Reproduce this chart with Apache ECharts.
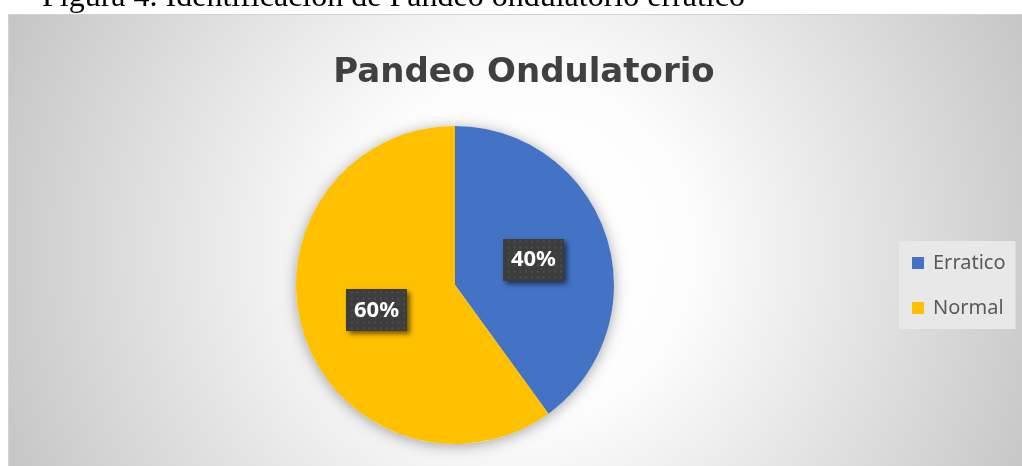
<!DOCTYPE html>
<html>
<head>
<meta charset="utf-8">
<script src="https://cdn.jsdelivr.net/npm/echarts@6/dist/echarts.min.js"></script>
<style>
  html, body { margin: 0; padding: 0; background: #fff; }
  #main { width: 1022px; height: 466px; }
</style>
</head>
<body>
<div id="main"></div>
<script>
// datos del grafico
var categories = ["Erratico", "Normal"];
var values = [40, 60];
var colors = ["#4472C4", "#FFC000"];
var titleText = "Pandeo Ondulatorio";
var captionText = "Figura 4. Identificación de Pandeo ondulatorio errático";

// fondo punteado de las etiquetas
function dotPattern() {
  var c = document.createElement("canvas");
  c.width = 63;
  c.height = 42;
  var ctx = c.getContext("2d");
  ctx.fillStyle = "#3d3d3d";
  ctx.fillRect(0, 0, 63, 42);
  ctx.fillStyle = "#4e4e4e";
  for (var y = 2; y < 42; y += 6) {
    for (var x = 2; x < 63; x += 6) {
      ctx.fillRect(x + ((y / 6) % 2 ? 3 : 0), y, 2, 2);
    }
  }
  return c;
}
var pattern = dotPattern();

var myChart = echarts.init(document.getElementById("main"));
var option = {
  animation: false,
  color: colors,
  graphic: [
    {
      type: "rect",
      z: -10,
      shape: { x: 8.5, y: 14.5, width: 1030, height: 470 },
      style: {
        fill: new echarts.graphic.RadialGradient(520, 250, 560, [
          { offset: 0, color: "#ffffff" },
          { offset: 0.3, color: "#fdfdfd" },
          { offset: 1, color: "#c5c5c5" },
        ], true),
        stroke: "#d2d2d2",
        lineWidth: 1,
      },
    },
    {
      type: "text",
      z: -5,
      x: 42,
      y: -2,
      style: {
        text: captionText,
        font: '32px "Liberation Serif"',
        fill: "#000000",
        verticalAlign: "middle",
      },
    },
  ],
  title: {
    text: titleText,
    left: 524,
    top: 56,
    padding: 0,
    textAlign: "center",
    textStyle: {
      fontFamily: "DejaVu Sans",
      fontWeight: "bold",
      fontSize: 34,
      color: "#404040",
    },
  },
  legend: {
    orient: "vertical",
    left: 899,
    top: 241,
    padding: [12, 10, 11, 13],
    itemGap: 25,
    itemWidth: 12,
    itemHeight: 12,
    icon: "rect",
    backgroundColor: "#e8e8e8",
    textStyle: {
      fontFamily: "Noto Sans",
      fontSize: 20,
      color: "#595959",
      padding: [0, 0, 0, 4],
    },
    data: categories,
  },
  series: [
    {
      // sombra del pastel
      type: "pie",
      silent: true,
      center: [455, 285],
      radius: 159,
      z: 1,
      label: { show: false },
      itemStyle: {
        color: "#ffffff",
        shadowBlur: 14,
        shadowColor: "rgba(0,0,0,0.35)",
        shadowOffsetY: 2,
      },
      data: [{ value: 1, name: "" }],
    },
    {
      type: "pie",
      center: [455, 285],
      radius: 159,
      startAngle: 90,
      clockwise: true,
      z: 2,
      itemStyle: { borderWidth: 0 },
      labelLine: { show: false },
      label: {
        show: true,
        position: "inside",
        formatter: function (p) {
          return Math.round(p.percent) + "%";
        },
        fontFamily: "Noto Sans",
        fontWeight: "bold",
        fontSize: 22,
        color: "#ffffff",
        padding: [10, 8, 10, 8],
        backgroundColor: { image: pattern },
        shadowBlur: 5,
        shadowColor: "rgba(0,0,0,0.55)",
        shadowOffsetX: 3,
        shadowOffsetY: 3,
      },
      data: categories.map(function (name, i) {
        return { name: name, value: values[i] };
      }),
    },
  ],
};
myChart.setOption(option);
window.addEventListener("resize", function () {
  myChart.resize();
});
</script>
</body>
</html>
